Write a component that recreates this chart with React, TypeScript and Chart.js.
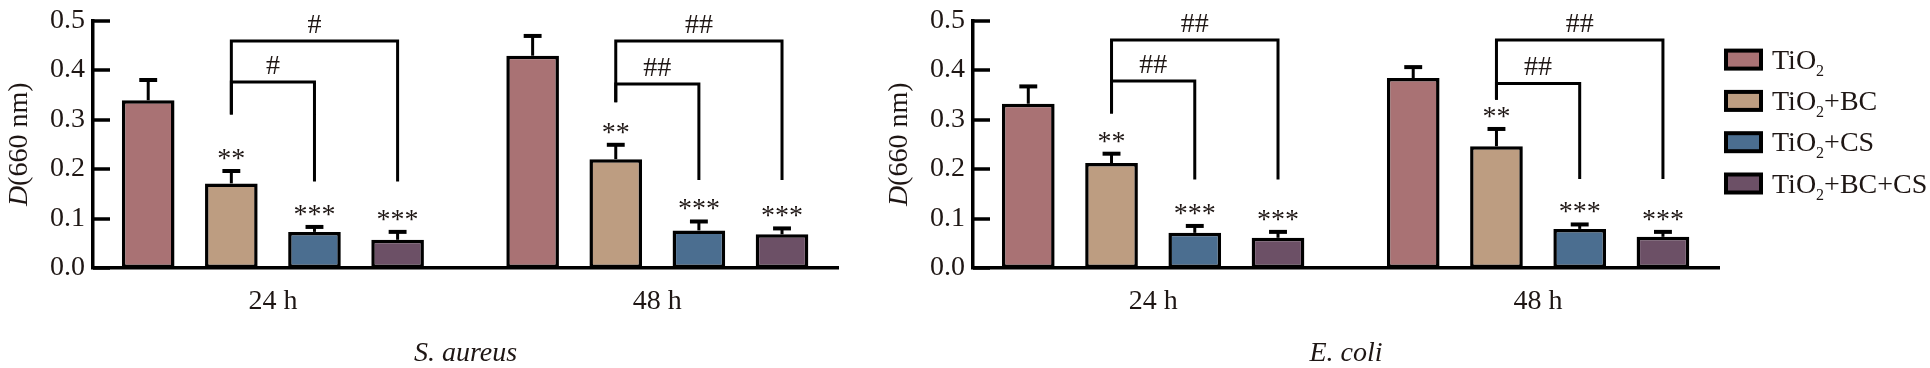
import React, { useEffect, useRef } from 'react';
import { Chart, registerables } from 'chart.js';

Chart.register(...registerables);

const FONT = "'Liberation Serif', 'Times New Roman', serif";
const INK = '#1e1614';

// ---- categories / series ----
const timeLabels = ['24 h', '48 h'];
const seriesNames = ['TiO2', 'TiO2+BC', 'TiO2+CS', 'TiO2+BC+CS'];
const seriesColors = ['#A97274', '#BD9D81', '#4B6E90', '#6C5066'];
const yTickStep = 0.1;
const yMax = 0.5;

// ---- S. aureus ----
const saTiO2 = [0.339, 0.429];
const saTiO2BC = [0.171, 0.22];
const saTiO2CS = [0.073, 0.076];
const saTiO2BCCS = [0.057, 0.068];
const saTiO2Err = [0.041, 0.04];
const saTiO2BCErr = [0.025, 0.029];
const saTiO2CSErr = [0.01, 0.018];
const saTiO2BCCSErr = [0.016, 0.012];
const saStars = [['', ''], ['**', '**'], ['***', '***'], ['***', '***']];
// [time, fromSeries, toSeries, level, leftEnd, rightEnd, label]
const saBrackets: [number, number, number, number, number, number, string][] = [
  [0, 1, 2, 0.376, 0.31, 0.175, '#'],
  [0, 1, 3, 0.459, 0.31, 0.175, '#'],
  [1, 1, 2, 0.372, 0.335, 0.178, '##'],
  [1, 1, 3, 0.459, 0.335, 0.178, '##'],
];

// ---- E. coli ----
const ecTiO2 = [0.332, 0.384];
const ecTiO2BC = [0.212, 0.246];
const ecTiO2CS = [0.071, 0.079];
const ecTiO2BCCS = [0.061, 0.063];
const ecTiO2Err = [0.035, 0.022];
const ecTiO2BCErr = [0.019, 0.035];
const ecTiO2CSErr = [0.014, 0.009];
const ecTiO2BCCSErr = [0.012, 0.01];
const ecStars = [['', ''], ['**', '**'], ['***', '***'], ['***', '***']];
const ecBrackets: [number, number, number, number, number, number, string][] = [
  [0, 1, 2, 0.378, 0.312, 0.179, '##'],
  [0, 1, 3, 0.461, 0.312, 0.179, '##'],
  [1, 1, 2, 0.373, 0.34, 0.18, '##'],
  [1, 1, 3, 0.461, 0.34, 0.18, '##'],
];

function drawChem(ctx: CanvasRenderingContext2D, name: string, x: number, y: number, size: number) {
  // draws "TiO2..." with a subscript 2
  const main = `${size}px ${FONT}`;
  const sub = `${Math.round(size * 0.58)}px ${FONT}`;
  ctx.textAlign = 'left';
  ctx.textBaseline = 'alphabetic';
  const idx = name.indexOf('TiO2');
  let cx = x;
  const pre = name.slice(0, idx + 3);
  const rest = name.slice(idx + 4);
  ctx.font = main;
  ctx.fillText(pre, cx, y);
  cx += ctx.measureText(pre).width;
  ctx.font = sub;
  ctx.fillText('2', cx, y + size * 0.25);
  cx += ctx.measureText('2').width;
  ctx.font = main;
  ctx.fillText(rest, cx, y);
}

function makeAnnot(
  means: number[][],
  errs: number[][],
  stars: string[][],
  brackets: [number, number, number, number, number, number, string][],
  showLegend: boolean
) {
  return {
    id: 'annot',
    afterDatasetsDraw(chart: any) {
      const ctx: CanvasRenderingContext2D = chart.ctx;
      const y = chart.scales.y;
      const area = chart.chartArea;
      ctx.save();
      ctx.strokeStyle = '#000';
      ctx.lineCap = 'butt';
      // inward ticks
      ctx.lineWidth = 3.5;
      y.ticks.forEach((t: any) => {
        const py = Math.round(y.getPixelForValue(t.value));
        ctx.beginPath();
        ctx.moveTo(area.left, py);
        ctx.lineTo(area.left + 17, py);
        ctx.stroke();
      });
      // error bars + stars
      errs.forEach((errArr, d) => {
        const meta = chart.getDatasetMeta(d);
        meta.data.forEach((bar: any, i: number) => {
          const v = means[d][i];
          const e = errArr[i];
          const top = y.getPixelForValue(v);
          const cap = y.getPixelForValue(v + e);
          const cw = bar.width * 0.34;
          ctx.lineWidth = 3;
          ctx.beginPath();
          ctx.moveTo(bar.x, top);
          ctx.lineTo(bar.x, cap);
          ctx.stroke();
          ctx.lineWidth = 4;
          ctx.beginPath();
          ctx.moveTo(bar.x - cw / 2, cap);
          ctx.lineTo(bar.x + cw / 2, cap);
          ctx.stroke();
          const s = stars[d][i];
          if (s) {
            ctx.fillStyle = INK;
            ctx.font = `28px ${FONT}`;
            ctx.textAlign = 'center';
            ctx.textBaseline = 'alphabetic';
            ctx.fillText(s, bar.x, cap - 4);
          }
        });
      });
      // brackets
      ctx.lineWidth = 3;
      ctx.lineJoin = 'miter';
      brackets.forEach(([t, from, to, level, le, re, label]) => {
        const x1 = chart.getDatasetMeta(from).data[t].x;
        const x2 = chart.getDatasetMeta(to).data[t].x;
        const yl = y.getPixelForValue(level);
        ctx.beginPath();
        ctx.moveTo(x1, y.getPixelForValue(le));
        ctx.lineTo(x1, yl);
        ctx.lineTo(x2, yl);
        ctx.lineTo(x2, y.getPixelForValue(re));
        ctx.stroke();
        ctx.fillStyle = INK;
        ctx.font = `28px ${FONT}`;
        ctx.textAlign = 'center';
        ctx.textBaseline = 'alphabetic';
        ctx.fillText(label, (x1 + x2) / 2, yl - 8);
      });
      ctx.restore();
    },
    afterDraw(chart: any) {
      const ctx: CanvasRenderingContext2D = chart.ctx;
      const area = chart.chartArea;
      ctx.save();
      // y-axis title: D(660 nm) with italic D
      ctx.translate(area.left - 73, (area.top + area.bottom) / 2);
      ctx.rotate(-Math.PI / 2);
      ctx.fillStyle = INK;
      ctx.textBaseline = 'middle';
      ctx.textAlign = 'left';
      const it = `italic 28px ${FONT}`;
      const rg = `28px ${FONT}`;
      ctx.font = it;
      const w1 = ctx.measureText('D').width;
      ctx.font = rg;
      const w2 = ctx.measureText('(660 nm)').width;
      const sx = -(w1 + w2) / 2;
      ctx.font = it;
      ctx.fillText('D', sx, 0);
      ctx.font = rg;
      ctx.fillText('(660 nm)', sx + w1, 0);
      ctx.restore();

      if (showLegend) {
        ctx.save();
        const bx = area.right + 5;
        seriesNames.forEach((name, i) => {
          const cy = area.top + 39 + i * 41.3;
          ctx.fillStyle = seriesColors[i];
          ctx.fillRect(bx + 2, cy - 9, 35, 18);
          ctx.strokeStyle = '#000';
          ctx.lineWidth = 4;
          ctx.strokeRect(bx + 2, cy - 9, 35, 18);
          ctx.fillStyle = INK;
          drawChem(ctx, name, bx + 48, cy + 9, 28);
        });
        ctx.restore();
      }
    },
  };
}

function makeConfig(
  title: string,
  means: number[][],
  errs: number[][],
  stars: string[][],
  brackets: [number, number, number, number, number, number, string][],
  rightPad: number,
  showLegend: boolean
): any {
  return {
    type: 'bar',
    data: {
      datasets: means.map((vals, d) => ({
        label: seriesNames[d],
        data: vals.map((v, i) => ({ x: i, y: v })),
        backgroundColor: seriesColors[d],
        borderColor: '#000',
        borderWidth: 3.5,
        borderSkipped: false,
        categoryPercentage: 0.865,
        barPercentage: 0.633,
      })),
    },
    options: {
      responsive: false,
      animation: false,
      devicePixelRatio: 1,
      layout: { padding: { left: 0, right: rightPad, top: 13, bottom: 0 } },
      plugins: {
        legend: { display: false },
        tooltip: { enabled: false },
        title: {
          display: true,
          text: title,
          position: 'bottom',
          fullSize: false,
          color: INK,
          padding: { top: 4, bottom: 0 },
          font: { family: FONT, size: 28, style: 'italic', weight: 'normal', lineHeight: 1 },
        },
      },
      scales: {
        x: {
          type: 'linear',
          offset: false,
          min: -0.468,
          max: 1.47,
          afterBuildTicks: (scale: any) => {
            scale.ticks = timeLabels.map((_, i) => ({ value: i }));
          },
          grid: { display: false, drawTicks: false },
          border: { display: true, color: '#000', width: 3.5 },
          ticks: {
            padding: 20,
            color: INK,
            font: { family: FONT, size: 28, lineHeight: 1 },
            callback: (v: number) => timeLabels[v] ?? '',
            maxRotation: 0,
            autoSkip: false,
          },
        },
        y: {
          min: 0,
          max: yMax,
          afterFit: (scale: any) => {
            scale.width = 93;
          },
          grid: { display: false, drawTicks: false },
          border: { display: true, color: '#000', width: 3.5 },
          ticks: {
            stepSize: yTickStep,
            padding: 8,
            color: INK,
            font: { family: FONT, size: 28, lineHeight: 0.9 },
            callback: (v: number) => Number(v).toFixed(1),
          },
        },
      },
    },
    plugins: [makeAnnot(means, errs, stars, brackets, showLegend)],
  };
}

function Panel({ left, width, cfg }: { left: number; width: number; cfg: () => any }) {
  const ref = useRef<HTMLCanvasElement>(null);
  useEffect(() => {
    const chart = new Chart(ref.current as HTMLCanvasElement, cfg());
    return () => chart.destroy();
  }, []);
  return (
    <canvas
      ref={ref}
      width={width}
      height={368}
      style={{ position: 'absolute', left, top: 0, width, height: 368 }}
    />
  );
}

export default function App() {
  const saMeans = [saTiO2, saTiO2BC, saTiO2CS, saTiO2BCCS];
  const saErrs = [saTiO2Err, saTiO2BCErr, saTiO2CSErr, saTiO2BCCSErr];
  const ecMeans = [ecTiO2, ecTiO2BC, ecTiO2CS, ecTiO2BCCS];
  const ecErrs = [ecTiO2Err, ecTiO2BCErr, ecTiO2CSErr, ecTiO2BCCSErr];
  return (
    <div
      style={{
        position: 'absolute',
        left: 0,
        top: 0,
        width: 1930,
        height: 368,
        overflow: 'hidden',
        background: '#fff',
      }}
    >
      <Panel
        left={0}
        width={870}
        cfg={() => makeConfig('S. aureus', saMeans, saErrs, saStars, saBrackets, 32, false)}
      />
      <Panel
        left={880}
        width={1050}
        cfg={() => makeConfig('E. coli', ecMeans, ecErrs, ecStars, ecBrackets, 211, true)}
      />
    </div>
  );
}
